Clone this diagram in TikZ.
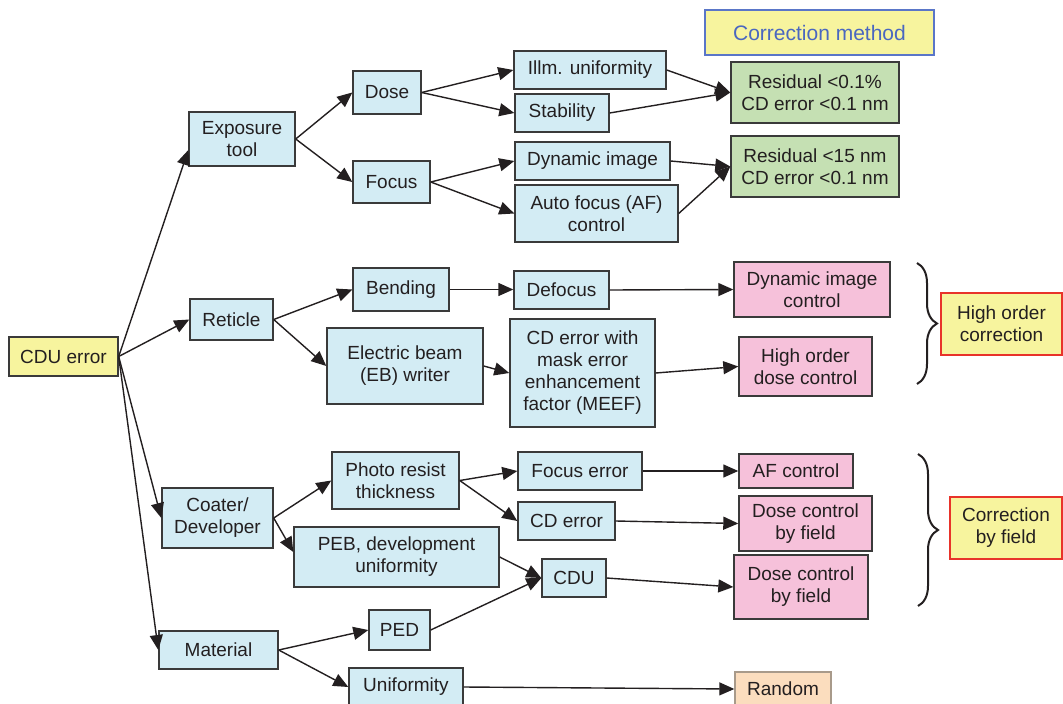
\documentclass[tikz,border=0pt]{standalone}
\usepackage{fontspec}
\setmainfont{Liberation Sans}
\usetikzlibrary{arrows.meta,decorations.pathreplacing}

\definecolor{txt}{HTML}{231F20}
\definecolor{edge}{HTML}{3A3A3A}
\definecolor{cause}{HTML}{D3ECF4}
\definecolor{okgreen}{HTML}{C5E0B3}
\definecolor{ctrlpink}{HTML}{F6C1DA}
\definecolor{hiyellow}{HTML}{F7F49E}
\definecolor{titleblue}{HTML}{4A67C0}
\definecolor{frameblue}{HTML}{5A76C8}
\definecolor{framered}{HTML}{E8332A}
\definecolor{peach}{HTML}{FBDDBE}
\definecolor{peachedge}{HTML}{A89A8A}

\tikzset{
  base/.style={draw=edge, line width=1.4pt, text=txt, align=center,
    inner sep=1pt, font=\fontsize{19}{22}\selectfont},
  causebox/.style={base, fill=cause},
  rootbox/.style={base, fill=hiyellow},
  goodbox/.style={base, fill=okgreen},
  ctrlbox/.style={base, fill=ctrlpink},
  groupbox/.style={base, fill=hiyellow, draw=framered},
  titlebox/.style={base, fill=hiyellow, draw=frameblue, text=titleblue,
    font=\fontsize{21}{24}\selectfont},
  randbox/.style={base, fill=peach, draw=peachedge},
  arr/.style={draw=txt, line width=1.4pt, -{Triangle[length=15pt,width=13pt]}},
  bracestyle/.style={draw=txt, line width=2pt,
    decorate, decoration={brace, amplitude=20pt}}
}

% box from its corner coordinates (x1,y1) to (x2,y2)
\newcommand\boxat[7]{%
  \node[#2, minimum width={#5-#3}, minimum height={#6-#4}]
    (#1) at ({(#3+#5)/2},{(#4+#6)/2}) {#7};}

\begin{document}
\begin{tikzpicture}[x=1pt, y=-1pt]
\useasboundingbox (0,0) rectangle (1063,704);

% root
\boxat{cdu}{rootbox}{9}{337}{118}{376}{CDU error}

% exposure tool branch
\boxat{expo}{causebox}{189}{112}{295}{166}{Exposure\\tool}
\boxat{dose}{causebox}{353}{71}{421}{114}{Dose}
\boxat{focus}{causebox}{353}{161}{430}{203}{Focus}
\boxat{illm}{causebox}{514}{51}{666}{89}{Illm. uniformity}
\boxat{stab}{causebox}{515}{94}{609}{132}{Stability}
\boxat{dyn}{causebox}{515}{142}{670}{180}{Dynamic image}
\boxat{af}{causebox}{515}{185}{678}{242}{Auto focus (AF)\\control}
\boxat{method}{titlebox}{705}{10}{934}{55}{Correction method}
\boxat{resA}{goodbox}{731}{62}{899}{123}{Residual <0.1\%\\CD error <0.1 nm}
\boxat{resB}{goodbox}{731}{136}{899}{197}{Residual <15 nm\\CD error <0.1 nm}

% reticle branch
\boxat{reticle}{causebox}{190}{299}{273}{340}{Reticle}
\boxat{bend}{causebox}{353}{268}{449}{311}{Bending}
\boxat{defocus}{causebox}{514}{271}{609}{309}{Defocus}
\boxat{ebw}{causebox}{327}{328}{483}{404}{Electric beam\\(EB) writer}
\boxat{meef}{causebox}{510}{319}{655}{427}{CD error with\\mask error\\enhancement\\factor (MEEF)}
\boxat{dic}{ctrlbox}{734}{262}{890}{317}{Dynamic image\\control}
\boxat{hodc}{ctrlbox}{739}{337}{872}{396}{High order\\dose control}
\boxat{hoc}{groupbox}{941}{293}{1062}{355}{High order\\correction}

% coater/developer branch
\boxat{coater}{causebox}{162}{488}{273}{548}{Coater/\\Developer}
\boxat{resist}{causebox}{332}{452}{459}{509}{Photo resist\\thickness}
\boxat{peb}{causebox}{294}{527}{499}{587}{PEB, development\\uniformity}
\boxat{ferr}{causebox}{518}{452}{642}{490}{Focus error}
\boxat{cderr}{causebox}{518}{502}{615}{540}{CD error}
\boxat{cdu2}{causebox}{542}{559}{606}{597}{CDU}
\boxat{afc}{ctrlbox}{739}{454}{853}{488}{AF control}
\boxat{dcfA}{ctrlbox}{739}{496}{872}{551}{Dose control\\by field}
\boxat{dcfB}{ctrlbox}{734}{555}{868}{619}{Dose control\\by field}
\boxat{cbf}{groupbox}{950}{497}{1062}{559}{Correction\\by field}

% material branch
\boxat{material}{causebox}{159}{631}{278}{669}{Material}
\boxat{ped}{causebox}{369}{610}{430}{650}{PED}
\boxat{unif}{causebox}{349}{668}{463}{706}{Uniformity}
\boxat{random}{randbox}{735}{672}{831}{706}{Random}

% connectors
\draw[arr] (cdu.east) -- ([yshift=-11pt]expo.west);
\draw[arr] (cdu.east) -- (reticle.west);
\draw[arr] (cdu.east) -- (coater.west);
\draw[arr] (cdu.east) -- (material.west);

\draw[arr] (expo.east) -- (dose.west);
\draw[arr] (expo.east) -- (focus.west);
\draw[arr] (dose.east) -- (illm.west);
\draw[arr] (dose.east) -- (stab.west);
\draw[arr] (focus.east) -- (dyn.west);
\draw[arr] (focus.east) -- (af.west);
\draw[arr] (illm.east) -- (resA.west);
\draw[arr] (stab.east) -- (resA.west);
\draw[arr] (dyn.east) -- (resB.west);
\draw[arr] (af.east) -- (resB.west);

\draw[arr] (reticle.east) -- (bend.west);
\draw[arr] (reticle.east) -- (ebw.west);
\draw[arr] (bend.east) -- (bend.east -| defocus.west);
\draw[arr] (defocus.east) -- (dic.west);
\draw[arr] (ebw.east) -- (meef.west);
\draw[arr] (meef.east) -- (hodc.west);

\draw[arr] (coater.east) -- (resist.west);
\draw[arr] (coater.east) -- ([yshift=5pt]peb.west);
\draw[arr] (resist.east) -- (ferr.west);
\draw[arr] (resist.east) -- (cderr.west);
\draw[arr] (ferr.east) -- (afc.west);
\draw[arr] (cderr.east) -- (dcfA.west);
\draw[arr] (peb.east) -- (cdu2.west);
\draw[arr] (ped.east) -- (cdu2.west);
\draw[arr] (cdu2.east) -- (dcfB.west);

\draw[arr] (material.east) -- (ped.west);
\draw[arr] (material.east) -- (unif.west);
\draw[arr] (unif.east) -- (random.west);

% grouping braces
\coordinate (braceAtop) at (917,263);
\coordinate (braceAbot) at (917,384);
\coordinate (braceBtop) at (918,454);
\coordinate (braceBbot) at (918,606);
\draw[bracestyle] (braceAtop) -- (braceAbot);
\draw[bracestyle] (braceBtop) -- (braceBbot);
\end{tikzpicture}
\end{document}
